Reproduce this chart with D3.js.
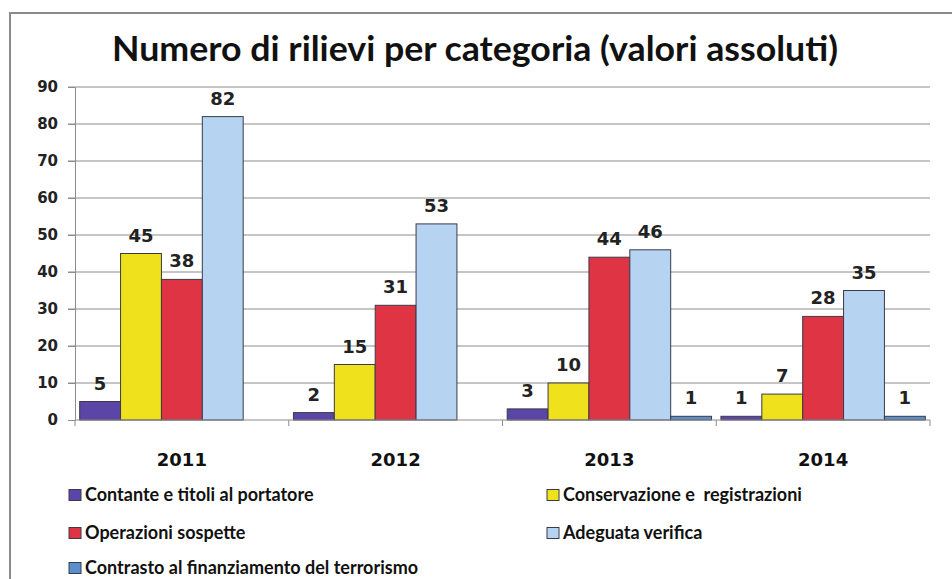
<!DOCTYPE html>
<html>
<head>
<meta charset="utf-8">
<script src="https://cdn.jsdelivr.net/npm/d3@7"></script>
<style>
  html, body { margin: 0; padding: 0; background: #fff; }
  svg { display: block; }
</style>
</head>
<body>
<svg id="chart" width="952" height="579"></svg>
<script>
const years = ["2011", "2012", "2013", "2014"];
const seriesNames = [
  "Contante e titoli al portatore",
  "Conservazione e  registrazioni",
  "Operazioni sospette",
  "Adeguata verifica",
  "Contrasto al finanziamento del terrorismo"
];
const contante = [5, 2, 3, 1];
const conservazione = [45, 15, 10, 7];
const operazioni = [38, 31, 44, 28];
const adeguata = [82, 53, 46, 35];
const contrasto = [0, 0, 1, 1];
const yTicks = [0, 10, 20, 30, 40, 50, 60, 70, 80, 90];
const colors = ["#5b45a6", "#efe11c", "#df3444", "#b6d3f1", "#5b8fc9"];
const title = "Numero di rilievi per categoria (valori assoluti)";

const seriesValues = [contante, conservazione, operazioni, adeguata, contrasto];

const svg = d3.select("#chart");

// outer frame
svg.append("path")
  .attr("d", "M10,579 L10,13 L952,13")
  .attr("fill", "none")
  .attr("stroke", "#8a8a8a")
  .attr("stroke-width", 2);

// title
svg.append("text")
  .attr("x", 475)
  .attr("y", 61)
  .attr("text-anchor", "middle")
  .attr("font-family", "Lato, 'Open Sans', sans-serif")
  .attr("font-weight", "bold")
  .attr("font-size", 34)
  .attr("fill", "#111")
  .attr("textLength", 726)
  .attr("lengthAdjust", "spacingAndGlyphs")
  .text(title);

const x0 = d3.scaleBand().domain(years).range([75, 930]).paddingInner(0).paddingOuter(0);
const x1 = d3.scaleBand().domain(d3.range(seriesNames.length)).range([0, x0.bandwidth()])
  .paddingInner(0).paddingOuter(0.115);
const y = d3.scaleLinear().domain([0, 90]).range([420, 87]);

// gridlines
svg.append("g").selectAll("line").data(yTicks.filter(d => d > 0)).join("line")
  .attr("x1", 68).attr("x2", 930)
  .attr("y1", d => y(d)).attr("y2", d => y(d))
  .attr("stroke", "#8c8c8c").attr("stroke-width", 1);

// y axis
const yAxis = svg.append("g").attr("transform", "translate(75,0)")
  .call(d3.axisLeft(y).tickValues(yTicks).tickSize(7).tickPadding(10));
yAxis.select(".domain").attr("stroke", "#8c8c8c");
yAxis.selectAll(".tick line").attr("stroke", "#8c8c8c");
yAxis.selectAll("text")
  .attr("font-family", "'DejaVu Sans', Verdana, sans-serif")
  .attr("font-weight", "bold")
  .attr("font-size", 15)
  .attr("fill", "#222");

// bars
const groups = svg.append("g").selectAll("g").data(years).join("g")
  .attr("transform", d => `translate(${x0(d)},0)`);

groups.each(function(yr, yi) {
  const g = d3.select(this);
  const vals = seriesValues.map((arr, si) => ({ si, v: arr[yi] }));
  g.selectAll("rect").data(vals.filter(d => d.v > 0)).join("rect")
    .attr("x", d => x1(d.si))
    .attr("y", d => y(d.v))
    .attr("width", x1.bandwidth())
    .attr("height", d => y(0) - y(d.v))
    .attr("fill", d => colors[d.si])
    .attr("stroke", "#3a3a4a")
    .attr("stroke-width", 1);
  g.selectAll("text").data(vals.filter(d => d.v > 0)).join("text")
    .attr("x", d => x1(d.si) + x1.bandwidth() / 2)
    .attr("y", d => y(d.v) - 12)
    .attr("text-anchor", "middle")
    .attr("font-family", "'DejaVu Sans', Verdana, sans-serif")
    .attr("font-weight", "bold")
    .attr("font-size", 18)
    .attr("fill", "#222")
    .text(d => d.v);
});

// x axis
const xAxisG = svg.append("g").attr("transform", "translate(0,420)");
xAxisG.append("line").attr("x1", 75).attr("x2", 930).attr("y1", 0).attr("y2", 0)
  .attr("stroke", "#8c8c8c");
const boundaries = years.map(d => x0(d)).concat([x0(years[years.length - 1]) + x0.bandwidth()]);
xAxisG.selectAll("line.tk").data(boundaries).join("line").attr("class", "tk")
  .attr("x1", d => d).attr("x2", d => d).attr("y1", 0).attr("y2", 6)
  .attr("stroke", "#8c8c8c");
xAxisG.selectAll("text").data(years).join("text")
  .attr("x", d => x0(d) + x0.bandwidth() / 2)
  .attr("y", 46)
  .attr("text-anchor", "middle")
  .attr("font-family", "'DejaVu Sans', Verdana, sans-serif")
  .attr("font-weight", "bold")
  .attr("font-size", 18)
  .attr("fill", "#111")
  .text(d => d);

// legend
const legendPos = [
  { x: 69, y: 495 }, { x: 547, y: 495 },
  { x: 69, y: 533 }, { x: 547, y: 533 },
  { x: 69, y: 568 }
];
const legend = svg.append("g").selectAll("g").data(seriesNames).join("g")
  .attr("transform", (d, i) => `translate(${legendPos[i].x},${legendPos[i].y})`);
legend.append("rect")
  .attr("x", 0).attr("y", -5.5).attr("width", 12).attr("height", 11)
  .attr("fill", (d, i) => colors[i])
  .attr("stroke", "#3a3a4a").attr("stroke-width", 1);
legend.append("text")
  .attr("x", 16).attr("y", 6)
  .attr("font-family", "Lato, 'Open Sans', sans-serif")
  .attr("font-weight", "bold")
  .attr("font-size", 18)
  .attr("fill", "#111")
  .style("white-space", "pre")
  .text(d => d);
</script>
</body>
</html>
